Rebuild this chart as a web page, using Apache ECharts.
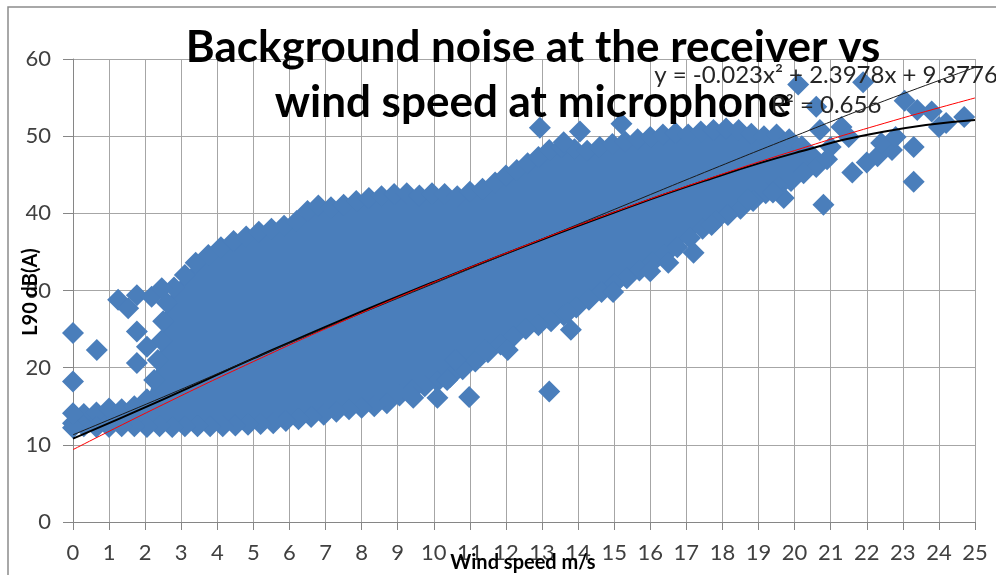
<!DOCTYPE html>
<html><head><meta charset="utf-8">
<script src="https://cdn.jsdelivr.net/npm/echarts@6/dist/echarts.min.js"></script>
<style>html,body{margin:0;padding:0;background:#fff}#c{width:996px;height:575px}</style>
</head><body><div id="c"></div>
<script>
// ---- data ----
const titleText = "Background noise at the receiver vs\nwind speed at microphone";
const xName = "Wind speed m/s";
const yName = "L90 dB(A)";
const eqText = "y = -0.023x\u00B2 + 2.3978x + 9.3776";
const r2Text = "R\u00B2 = 0.656";

// upper edge of the dense cloud (centres of edge diamonds), left to right
const cloudUpper = [[0,12.8],[0.3,14.0],[0.65,14.2],[1.0,14.7],[1.35,14.6],[1.7,15.0],[2.05,15.9],[2.25,18.4],[2.35,21.0],[2.45,23.5],[2.5,26.0],[2.6,28.4],[2.8,30.4],[3.1,32.0],[3.4,33.6],[3.75,34.6],[4.1,35.6],[4.45,36.4],[4.8,37.0],[5.15,37.6],[5.5,38.0],[5.85,38.4],[6.2,39.0],[6.5,40.3],[6.8,41.0],[7.15,40.8],[7.5,41.1],[7.85,41.6],[8.2,42.0],[8.55,42.2],[8.9,42.5],[9.25,42.6],[9.6,42.3],[9.95,42.6],[10.3,42.5],[10.65,42.2],[11.0,42.8],[11.35,43.2],[11.7,44.0],[12.0,44.9],[12.3,45.6],[12.6,46.5],[12.9,47.3],[13.2,48.2],[13.55,48.6],[13.9,48.3],[14.25,48.1],[14.6,48.6],[14.95,49.0],[15.3,49.3],[15.65,49.6],[16.0,49.9],[16.35,50.2],[16.7,50.4],[17.05,50.2],[17.4,50.6],[17.75,50.8],[18.1,51.0],[18.45,50.8],[18.8,50.3],[19.15,50.0],[19.5,50.2],[19.85,49.6],[20.2,48.7],[20.5,47.4]];
// lower edge of the dense cloud, right to left
const cloudLower = [[20.6,46.0],[20.25,45.2],[19.9,44.2],[19.55,43.4],[19.2,42.6],[18.85,41.6],[18.5,40.6],[18.15,39.8],[17.8,39.0],[17.45,38.0],[17.1,36.8],[16.75,35.6],[16.4,34.6],[16.05,33.6],[15.7,32.6],[15.35,31.6],[15.0,30.8],[14.65,29.8],[14.3,28.8],[13.95,27.8],[13.6,26.8],[13.25,26.0],[12.9,25.5],[12.55,25.0],[12.2,24.0],[11.85,23.0],[11.5,22.0],[11.15,20.8],[10.8,19.8],[10.45,18.8],[10.1,18.2],[9.75,17.6],[9.4,17.0],[9.05,16.4],[8.7,15.4],[8.35,15.0],[8.0,14.8],[7.65,14.6],[7.3,14.3],[6.95,13.9],[6.6,13.6],[6.25,13.3],[5.9,13.1],[5.55,12.8],[5.2,12.7],[4.85,12.6],[4.5,12.5],[4.15,12.4],[3.8,12.4],[3.45,12.4],[3.1,12.4],[2.75,12.3],[2.4,12.4],[2.05,12.3],[1.7,12.4],[1.35,12.4],[1.0,12.3],[0.65,12.3],[0.3,12.4],[0,12.2]];
// scattered points outside the dense cloud
const outliers = [[0,24.5],[0,18.2],[0,14.1],[0.66,22.3],[1.25,28.8],[1.53,27.7],[1.77,29.4],[1.77,24.7],[1.77,20.6],[2.05,22.7],[2.18,29.2],[2.46,30.3],
[9.43,16.1],[10.1,16.1],[10.98,16.2],[13.2,16.9],[10.37,18.4],[10.6,21.0],[11.4,22.3],[12.05,22.3],[13.8,24.9],[13.7,27.1],[14.97,29.8],[16.0,32.5],[16.5,33.6],[17.2,34.9],[17.7,38.5],
[12.94,51.1],[14.05,50.6],[13.6,49.2],[15.2,51.6],
[20.1,56.7],[21.9,57.0],[23.05,54.6],[23.4,53.4],[23.8,53.2],[24.2,51.7],[24.7,52.5],[24.0,51.2],[20.6,53.8],[20.7,50.8],[21.3,51.2],[21.5,49.9],[21.0,48.6],[20.9,47.0],[22.0,46.6],[22.3,47.4],[22.7,48.2],[22.4,49.1],[22.8,49.9],[23.3,48.6],[21.6,45.3],[23.3,44.1],[20.8,41.1],[19.7,42.0],[18.7,41.8],[19.4,42.7]];

// trend lines
const trendX = [0,2.5,5,7.5,10,12.5,15,17.5,20,22.5,25];
const polyTrend = [9.38,15.23,20.79,26.07,31.06,35.76,40.17,44.30,48.13,51.69,54.95];   // red
const thinTrend = [11.3,16.2,21.2,26.1,30.9,35.7,40.5,45.3,50.0,54.6,58.9];            // thin black
const thickTrend = [10.8,15.9,21.2,26.3,31.1,35.7,40.1,44.2,47.8,50.6,52.1];           // thick black

const xTicks = {min:0, max:25, interval:1};
const yTicks = {min:0, max:60, interval:10};

// ---- chart ----
const blue = '#4a7ebb';
const font = 'Lato, "DejaVu Sans", sans-serif';
const cloudPoly = cloudUpper.concat(cloudLower);
const pts = cloudUpper.concat(cloudLower, outliers);
const pair = (ys) => trendX.map((x,i)=>[x, ys[i]]);

const chart = echarts.init(document.getElementById('c'), null, {renderer:'canvas'});
chart.setOption({
  backgroundColor:'#fff',
  animation:false,
  title:{text:titleText, left:533, top:20, textAlign:'center', padding:0,
    textStyle:{fontFamily:font, fontSize:44, fontWeight:'bold', color:'#000', lineHeight:55}, z:20},
  grid:{left:73, right:21, top:59, bottom:53, containLabel:false, outerBoundsMode:'none'},
  xAxis:{type:'value', min:xTicks.min, max:xTicks.max, interval:xTicks.interval,
    axisLine:{show:true, onZero:false, lineStyle:{color:'#868686', width:1}},
    axisTick:{show:true, length:8, lineStyle:{color:'#868686'}},
    axisLabel:{fontFamily:font, fontSize:22, color:'#404040', margin:20, showMinLabel:true, showMaxLabel:true, hideOverlap:false},
    splitLine:{show:true, lineStyle:{color:'#a6a6a6', width:1}}},
  yAxis:{type:'value', min:yTicks.min, max:yTicks.max, interval:yTicks.interval,
    axisLine:{show:true, onZero:false, lineStyle:{color:'#868686', width:1}},
    axisTick:{show:true, length:10, lineStyle:{color:'#868686'}},
    axisLabel:{fontFamily:font, fontSize:22, color:'#404040', margin:22, showMinLabel:true, showMaxLabel:true},
    splitLine:{show:true, lineStyle:{color:'#a6a6a6', width:1}}},
  graphic:[
    {type:'rect', shape:{x:8, y:7, width:1100, height:700}, style:{fill:null, stroke:'#8c8c8c', lineWidth:1.5}, z:0, silent:true},
    {type:'text', x:826, y:75, z:30, style:{text:eqText, fill:'#262626', font:'24px '+font, textAlign:'center', textVerticalAlign:'middle'}},
    {type:'text', x:826, y:105, z:30, style:{text:r2Text, fill:'#262626', font:'24px '+font, textAlign:'center', textVerticalAlign:'middle'}},
    {type:'text', x:523, y:563, z:30, style:{text:xName, fill:'#000', font:'bold 20px '+font, textAlign:'center', textVerticalAlign:'middle'}},
    {type:'text', x:31, y:292, rotation:Math.PI/2, z:30, style:{text:yName, fill:'#000', font:'bold 20px '+font, textAlign:'center', textVerticalAlign:'middle'}}
  ],
  series:[
    {type:'custom', silent:true, clip:false, z:1, data:[[0,0]],
      renderItem:(params, api)=>({type:'polygon', shape:{points:cloudPoly.map(p=>api.coord(p))}, style:{fill:blue}})},
    {type:'scatter', data:pts, symbol:'diamond', symbolSize:22, clip:false, z:2, silent:true,
      itemStyle:{color:blue, opacity:1}},
    {type:'line', data:pair(thickTrend), smooth:true, showSymbol:false, z:5, silent:true, lineStyle:{color:'#000', width:2}},
    {type:'line', data:pair(thinTrend), smooth:true, showSymbol:false, z:5, silent:true, lineStyle:{color:'#1a1a1a', width:1}},
    {type:'line', data:pair(polyTrend), smooth:true, showSymbol:false, z:6, silent:true, lineStyle:{color:'#ff0000', width:1}}
  ]
});
</script></body></html>
